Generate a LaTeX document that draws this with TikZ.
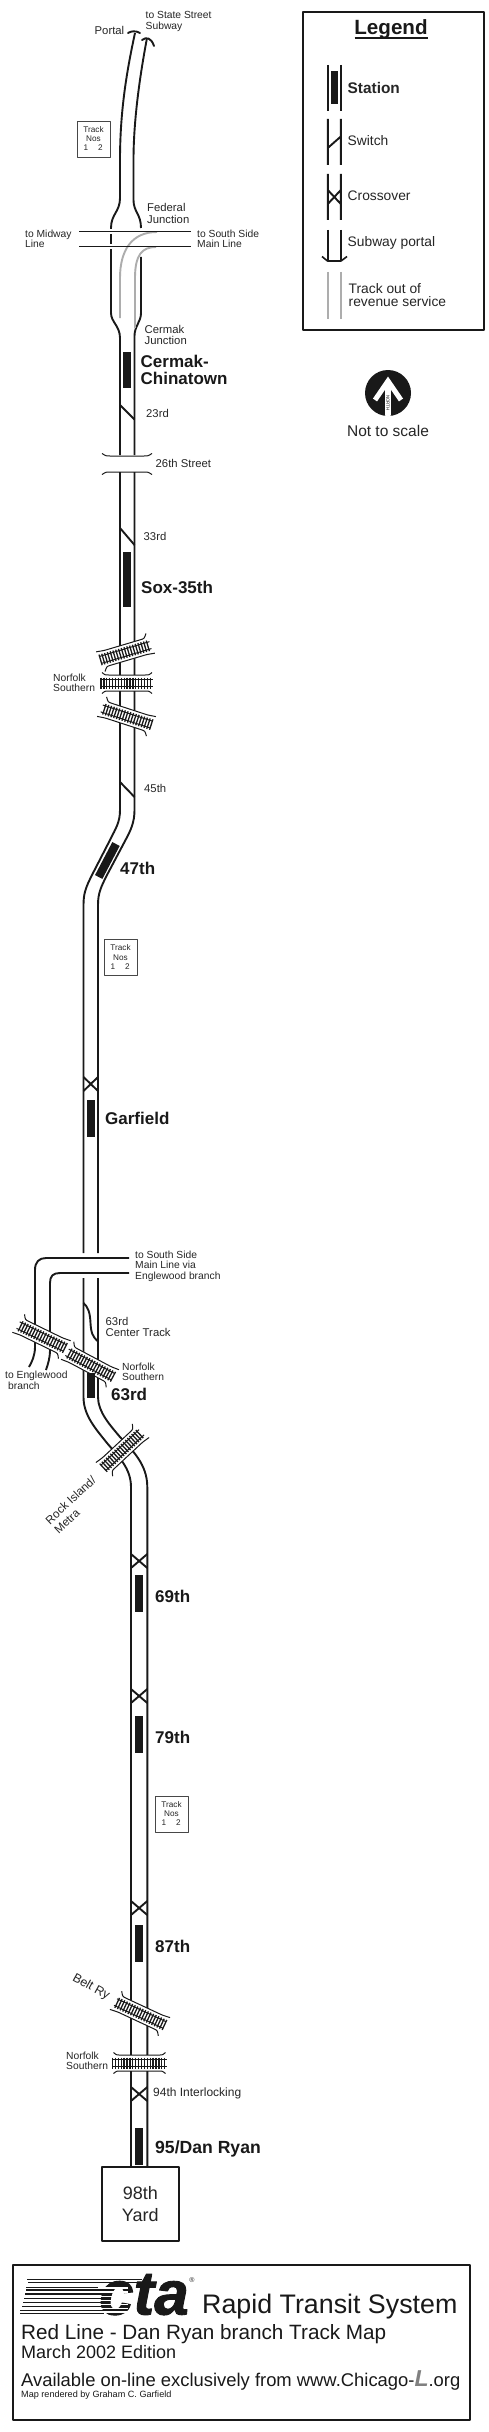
\documentclass[tikz,border=0pt]{standalone}
\usepackage{fontspec}
\setmainfont{Liberation Sans}
\newfontfamily\ctafont[BoldItalicFeatures={FakeBold=1.5}]{Liberation Sans}
\definecolor{ink}{gray}{0.1}
\definecolor{txt}{gray}{0.15}
\definecolor{oos}{gray}{0.68}
\tikzset{
  trk/.style={draw=ink,line width=1.9pt},
  oostrk/.style={draw=oos,line width=1.9pt},
  stn/.style={fill=ink,draw=none},
  lbl/.style={anchor=west,inner sep=0pt,text=txt,font=\fontsize{10.3}{10.5}\selectfont,align=left},
  lblm/.style={anchor=west,inner sep=0pt,text=txt,font=\fontsize{11.3}{11.6}\selectfont,align=left},
  stnlbl/.style={anchor=west,inner sep=0pt,text=ink,font=\fontsize{17}{18}\selectfont\bfseries,align=left},
  legtxt/.style={anchor=west,inner sep=0pt,text=txt,font=\fontsize{13.8}{13}\selectfont,align=left},
  smallbox/.style={draw=ink!80,line width=0.9pt,fill=white},
  tiny/.style={inner sep=0pt,text=txt,font=\fontsize{8.2}{9}\selectfont},
  foot/.style={anchor=base west,inner sep=0pt,text=ink},
}
% rail body: half length
\newcommand{\railbody}[1]{%
    \draw[ink,line width=1pt] (-#1,-3.6) -- (#1,-3.6) (-#1,3.6) -- (#1,3.6);
    \pgfmathsetmacro{\nn}{int(2*#1/2.9)}
    \foreach \k in {0,...,\nn}{
      \draw[ink,line width=1.3pt] (-#1+\k*2.9,-5.5) -- (-#1+\k*2.9,5.5);
    }}
% rail crossing: cx cy angle halflength mirror(1 or -1)
\newcommand{\railx}[5]{%
  \begin{scope}[shift={(#1,#2)},rotate=#3,xscale=#5]
    \fill[white] (-#4-2,-8) rectangle (#4+2,8);
    \draw[ink,line width=1pt] (-#4-2,-9) .. controls (-#4+6,-8) .. (-#4+8,-8) -- (#4-8,-8) .. controls (#4-4,-8) .. (#4-1,-12.5);
    \draw[ink,line width=1pt] (-#4+1,12.5) .. controls (-#4+4,8) .. (-#4+8,8) -- (#4-8,8) .. controls (#4-6,8) .. (#4+2,9);
    \railbody{#4}
  \end{scope}}
% straight rail crossing: cx cy halflength
\newcommand{\railh}[3]{%
  \begin{scope}[shift={(#1,#2)}]
    \fill[white] (-#3-2,-8) rectangle (#3+2,8);
    \draw[ink,line width=1pt] (-#3+1,-10.5) .. controls (-#3+4,-8) .. (-#3+8,-8) -- (#3-8,-8) .. controls (#3-4,-8) .. (#3-1,-10.5);
    \draw[ink,line width=1pt] (-#3+1,10.5) .. controls (-#3+4,8) .. (-#3+8,8) -- (#3-8,8) .. controls (#3-4,8) .. (#3-1,10.5);
    \railbody{#3}
  \end{scope}}
% crossover at y between x=xl and x=xr
\newcommand{\xover}[3]{%
  \draw[trk] (#1,#3-7) -- (#2,#3+7) (#2,#3-7) -- (#1,#3+7);}
% track number box
\newcommand{\tnbox}[3]{%
  \node[smallbox,minimum width=33pt,minimum height=36pt,inner sep=0pt] (#3) at (#1,#2) {};
  \node[tiny] (#3a) at (#1,#2-9.5) {Track};
  \node[tiny] (#3b) at (#1,#2) {Nos};
  \node[tiny] (#3c) at (#1-7.5,#2+9) {1};
  \node[tiny] (#3d) at (#1+7,#2+9) {2};}
\begin{document}
\begin{tikzpicture}[x=1pt,y=-1pt,line cap=butt,line join=round]
\useasboundingbox (0,0) rectangle (488,2432);
\fill[white] (0,0) rectangle (488,2432);

% === top section ===
\draw[trk] (135,33) .. controls (127,70) and (120,110) .. (120,160) -- (120,198) .. controls (120,212) and (111,214) .. (111,228) -- (111,313) .. controls (111,322) and (120,326) .. (120,338) -- (120,455);
\draw[trk] (147,38) .. controls (140,75) and (133.5,120) .. (133.5,160) -- (133.5,200) .. controls (133.5,212) and (141,214) .. (141,228);
\draw[trk] (141,257) -- (141,313) .. controls (141,322) and (134.5,326) .. (134.5,336) -- (134.5,455);
\draw[trk,line cap=round] (128,33) .. controls (131,31) and (136,30.5) .. (140,33);
\draw[trk,line cap=round] (142,40) .. controls (146,37) and (151,37) .. (154,46);
% federal junction
\draw[white,line width=5pt] (105,231.5) -- (150,231.5) (105,246.5) -- (150,246.5);
\draw[oostrk] (157,232) .. controls (132,232) and (120,250) .. (120,278) -- (120,318);
\draw[oostrk] (156,247) .. controls (142,247) and (135,255) .. (135,278) -- (135,328);
\draw[trk] (79,231.5) -- (191,231.5);
\draw[trk] (79,246.5) -- (191,246.5);

\node[lblm] (portal) at (94.5,30) {Portal};
\node[lbl] (state) at (145.5,21.5) {to State Street\\Subway};
\node[lblm] (federal) at (147,213.5) {Federal\\Junction};
\node[lbl] (midway) at (25,239) {to Midway\\Line};
\node[lbl] (ssml) at (197,239) {to South Side\\Main Line};
\node[lblm] (cermakj) at (144.5,335) {Cermak\\Junction};
\node[lblm] (r23) at (146,413) {23rd};
\node[stn,minimum width=8.3pt,minimum height=36.6pt,inner sep=0pt] (scermak) at (127,370) {};
\node[stnlbl,font=\fontsize{17}{17.5}\selectfont\bfseries] (lcermak) at (140.5,370) {Cermak-\\Chinatown};
\tnbox{93.5}{139}{tn1}
\draw[trk] (120,405) -- (134.5,419.5);

% 26th street
\draw[ink,line width=1pt] (102,453.5) .. controls (106,456) .. (110,456) -- (144,456) .. controls (148,456) .. (152,453.5);
\draw[ink,line width=1pt] (102,474.5) .. controls (106,472) .. (110,472) -- (144,472) .. controls (148,472) .. (152,474.5);
\node[lblm] (l26) at (155.5,463.5) {26th Street};

% main down to rails
\draw[trk] (120,472) -- (120,810) .. controls (120,822) and (116,828) .. (110,840) -- (92,875) .. controls (86,887) and (83.5,893) .. (83.5,905) -- (83.5,1253);
\draw[trk] (134.5,472) -- (134.5,810) .. controls (134.5,822) and (131,830) .. (125,841) -- (107,875) .. controls (101,887) and (98,893) .. (98,905) -- (98,1253);

\draw[trk] (120,528) -- (134.5,545);
\node[lblm] (r33) at (143.5,536.5) {33rd};
\node[stn,minimum width=8.3pt,minimum height=55.5pt,inner sep=0pt] (ssox) at (127,579.5) {};
\node[stnlbl] (lsox) at (141,587) {Sox-35th};

\railx{125.5}{652.5}{16.5}{26}{1}
\railh{127}{683}{26}
\railx{126.5}{716.5}{-18}{26}{-1}
\node[lbl,font=\fontsize{10.3}{9.5}\selectfont] (ns1) at (53,683) {Norfolk\\Southern};

\draw[trk] (120,782) -- (134.5,797);
\node[lblm] (r45) at (144,788) {45th};

% 47th
\draw[ink,line width=8.3pt] (116,844) -- (98.7,877);
\node[stnlbl] (l47) at (120,868) {47th};
\tnbox{120.5}{957.5}{tn2}

% Garfield
\xover{83.5}{98}{1084}
\node[stn,minimum width=8.3pt,minimum height=37pt,inner sep=0pt] (sgar) at (91,1118.5) {};
\node[stnlbl] (lgar) at (105,1118) {Garfield};

% 63rd area
\draw[trk] (129,1258) -- (46,1258) .. controls (39,1258) and (35,1262) .. (35,1270) -- (35,1347) .. controls (35,1355) and (32,1362) .. (29,1367);
\draw[trk] (129,1273) -- (60,1273) .. controls (53,1273) and (50,1276) .. (50,1283) -- (50,1350) .. controls (50,1358) and (48,1364) .. (46,1370);
\draw[trk] (83.5,1278) -- (83.5,1397) .. controls (83.5,1415) and (95,1428) .. (107,1443) .. controls (118,1456) and (131,1468) .. (131,1487) -- (131,2167);
\draw[trk] (98,1278) -- (98,1397) .. controls (98,1412) and (110,1425) .. (120,1437) .. controls (132,1450) and (147.3,1464) .. (147.3,1487) -- (147.3,2167);
\draw[trk] (83.5,1303) .. controls (88,1307) and (90,1312) .. (90.5,1323) .. controls (91,1333) and (93,1337) .. (97.5,1341);
\node[lblm] (lct) at (105.5,1327) {63rd\\Center Track};
\railx{41.5}{1336.5}{-26}{26}{-1}
\railx{90}{1364.5}{-28}{26}{-1}
\node[stn,minimum width=8.3pt,minimum height=25pt,inner sep=0pt] (s63) at (91,1385) {};
\node[lbl] (ssmlb) at (135,1266) {to South Side\\Main Line via\\Englewood branch};
\node[lbl] (ns2) at (122,1372) {Norfolk\\Southern};
\node[lbl] (toeng) at (5,1376) {to Englewood};
\node[lbl] (toengb) at (8,1386) {branch};
\node[stnlbl] (l63) at (111,1394) {63rd};
\railx{122.5}{1450}{43}{26}{1}
\node[lbl,anchor=center,rotate=43,align=left,font=\fontsize{11.6}{13}\selectfont] (rock) at (75,1505) {Rock Island/\\Metra};

% 69th etc.
\xover{131}{147.3}{1561}
\node[stn,minimum width=8.3pt,minimum height=37pt,inner sep=0pt] (s69) at (139.2,1593.5) {};
\node[stnlbl] (l69) at (155,1596) {69th};
\xover{131}{147.3}{1696}
\node[stn,minimum width=8.3pt,minimum height=37pt,inner sep=0pt] (s79) at (139.2,1734.5) {};
\node[stnlbl] (l79) at (155,1737) {79th};
\tnbox{171.5}{1814}{tn3}
\xover{131}{147.3}{1908}
\node[stn,minimum width=8.3pt,minimum height=37pt,inner sep=0pt] (s87) at (139.2,1943.5) {};
\node[stnlbl] (l87) at (155,1946) {87th};
\railx{140}{2013.5}{-25}{27}{-1}
\node[lbl,anchor=center,rotate=-29,font=\fontsize{12.5}{13}\selectfont] (belt) at (91,1987) {Belt Ry};
\railh{139.5}{2063}{27}
\node[lbl,font=\fontsize{10.3}{9.5}\selectfont] (ns3) at (66,2061) {Norfolk\\Southern};
\xover{131}{147.3}{2094}
\node[lblm,font=\fontsize{12}{12}\selectfont] (l94) at (153,2093.5) {94th Interlocking};
\node[stn,minimum width=8.3pt,minimum height=37pt,inner sep=0pt] (s95) at (139.2,2146.5) {};
\node[stnlbl,font=\fontsize{17.6}{18}\selectfont\bfseries] (l95) at (155,2149) {95/Dan Ryan};
\node[draw=ink,line width=1.4pt,fill=white,minimum width=77pt,minimum height=74pt,inner sep=0pt,align=center,font=\fontsize{18}{22}\selectfont,text=txt] (yard) at (140.3,2204) {98th\\Yard};

% === Legend ===
\node[draw=ink,line width=1.9pt,minimum width=181pt,minimum height=318pt,inner sep=0pt] (legend) at (393.5,171) {};
\node[anchor=base,inner sep=0pt,text=ink,font=\fontsize{20.6}{20}\selectfont\bfseries] (legt) at (391,35) {Legend};
\draw[ink,line width=1.2pt] (354.5,38) -- (427.5,38);
\draw[trk] (327.8,65) -- (327.8,111) (340.8,65) -- (340.8,111);
\node[stn,minimum width=7.6pt,minimum height=33pt,inner sep=0pt] (legs) at (334.5,87.5) {};
\node[legtxt,font=\fontsize{15.4}{15}\selectfont\bfseries] (legst) at (347.5,88) {Station};
\draw[trk] (327.8,119) -- (327.8,165) (340.8,119) -- (340.8,165) (327.8,148) -- (340.8,136.5);
\node[legtxt] (legsw) at (347.5,141) {Switch};
\draw[trk] (327.8,174) -- (327.8,220) (340.8,174) -- (340.8,220) (327.8,190) -- (340.8,204) (340.8,190) -- (327.8,204);
\node[legtxt] (legcr) at (347.5,196) {Crossover};
\draw[trk] (327.8,230) -- (327.8,261) (340.8,230) -- (340.8,261);
\draw[ink,line width=1.6pt] (322,256.5) -- (327.5,261) -- (341,261) -- (347,256.5);
\node[legtxt] (legsp) at (347.5,243) {Subway portal};
\draw[oostrk,line width=1.4pt] (327.8,272) -- (327.8,319) (340.8,272) -- (340.8,319);
\node[legtxt] (legoo) at (348.5,295.5) {Track out of\\revenue service};

% North arrow
\fill[ink] (388,393) circle (23);
\begin{scope}
  \clip (388,393) circle (23);
  \fill[white] (385,385) rectangle (391,417);
  \draw[white,line width=5pt,line join=miter] (375,400) -- (388,381) -- (401,400);
\end{scope}
\node[inner sep=0pt,rotate=-90,text=ink,font=\fontsize{4.5}{5}\selectfont] (north) at (388,403) {NORTH};
\node[inner sep=0pt,text=txt,font=\fontsize{15.5}{15}\selectfont] (scale) at (388,430.5) {Not to scale};

% === Footer ===
\node[draw=ink,line width=1.7pt,minimum width=457pt,minimum height=155pt,inner sep=0pt] (footer) at (241.5,2342.5) {};
% speed lines
\foreach \yy/\xa/\xb/\w in {2279/27/142/0.9,2282/28/140/1,2287.5/26/107/1.3,2290/26/106/1.3,2294/25/105/1.5,2298.5/24/104/1.7,2302.5/23/104/1.6,2306.5/22/104/1.3,2310/20/104/1,2313/20/104/0.8}{
  \draw[ink,line width=\w pt] (\xa,\yy) -- (\xb,\yy);
}
\node[anchor=base west,inner sep=0pt,text=ink,font=\ctafont\fontsize{62}{62}\selectfont\bfseries\itshape] (cta) at (99,2314.5) {cta};
\foreach \yy in {2288,2292,2296.5,2300.5,2304.5,2308.5,2312}{
  \draw[white,line width=1.1pt] (98,\yy) -- (128,\yy);
}
\node[anchor=center,inner sep=0pt,text=txt,font=\fontsize{7}{7}\selectfont] (reg) at (192,2280) {®};
\node[foot,font=\fontsize{26.8}{28}\selectfont] (rts) at (202,2313) {Rapid Transit System};
\node[foot,font=\fontsize{20.7}{22}\selectfont] (red) at (21,2339) {Red Line - Dan Ryan branch Track Map};
\node[foot,font=\fontsize{18}{18}\selectfont] (mar) at (21,2358) {March 2002 Edition};
\node[foot,font=\fontsize{18.4}{19}\selectfont] (avail) at (21,2386) {Available on-line exclusively from www.Chicago-{\color{gray}\fontsize{23}{23}\selectfont\bfseries\itshape L}{\color{ink}.org}};
\node[foot,font=\fontsize{9.1}{8}\selectfont] (map) at (21,2397) {Map rendered by Graham C. Garfield};
\end{tikzpicture}
\end{document}
